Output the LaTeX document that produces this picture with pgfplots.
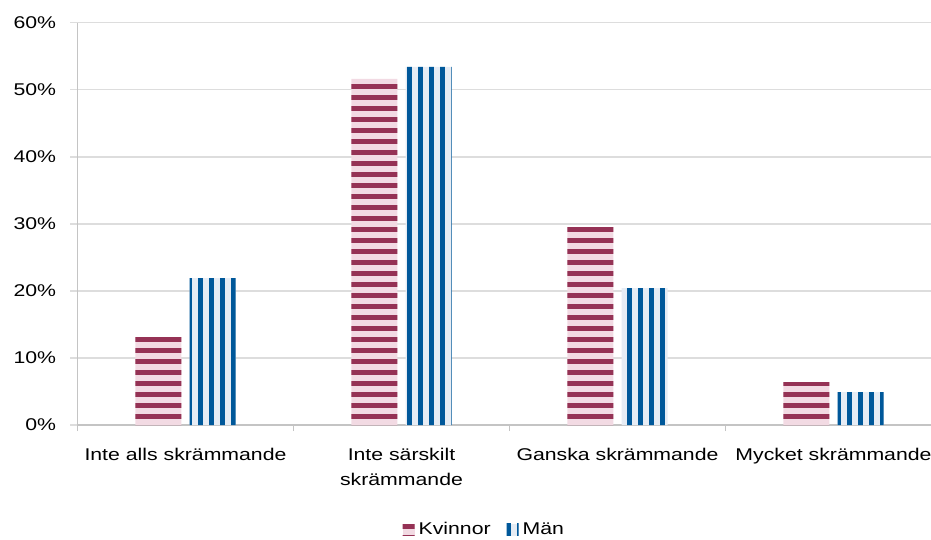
\documentclass[border=0pt]{standalone}
\usepackage{pgfplots}
\pgfplotsset{compat=1.18}
\usepackage{fontspec}
\setmainfont[FakeStretch=1.25]{Liberation Sans}
\usetikzlibrary{patterns.meta}
\definecolor{kdark}{HTML}{953255}
\definecolor{klight}{HTML}{F2DAE3}
\definecolor{mdark}{HTML}{00589A}
\definecolor{mlight}{HTML}{E6ECF4}
\definecolor{gridc}{HTML}{DDDDDD}
\definecolor{axisc}{HTML}{C4C4C4}
\pgfdeclarepattern{
  name=hstripe, type=uncolored,
  bottom left={\pgfpoint{-2pt}{0pt}},
  top right={\pgfpoint{502pt}{5.5pt}},
  tile size={\pgfpoint{500pt}{5.5pt}},
  code={\pgfpathrectangle{\pgfpoint{-2pt}{0pt}}{\pgfpoint{504pt}{2.6pt}}\pgfusepath{fill}}
}
\pgfdeclarepattern{
  name=vstripe, type=uncolored,
  bottom left={\pgfpoint{0pt}{-2pt}},
  top right={\pgfpoint{5.5pt}{302pt}},
  tile size={\pgfpoint{5.5pt}{300pt}},
  code={\pgfpathrectangle{\pgfpoint{0pt}{-2pt}}{\pgfpoint{2.7pt}{304pt}}\pgfusepath{fill}}
}
\begin{document}
\fontsize{8.5pt}{10.5pt}\selectfont
\begin{tikzpicture}
\begin{axis}[
  at={(0,0)}, anchor=south west,
  scale only axis,
  width=432pt, height=201.2pt,
  xmin=-0.5, xmax=3.5,
  ymin=0, ymax=60,
  axis lines*=left,
  x axis line style={draw=axisc, line width=1.3pt},
  y axis line style={draw=axisc, line width=0.9pt},
  ytick={0,10,20,30,40,50,60},
  yticklabels={0\%,10\%,20\%,30\%,40\%,50\%,60\%},
  ymajorgrids,
  grid style={draw=gridc, line width=0.8pt},
  tick align=outside,
  major tick length=3.5pt,
  ytick style={draw=gridc, line width=0.8pt},
  yticklabel style={font=\fontsize{8.5pt}{10.5pt}\selectfont, inner sep=0pt, xshift=-7pt},
  xtick={0,1,2,3},
  xticklabels={Inte alls skrämmande, {Inte särskilt\\skrämmande}, Ganska skrämmande, Mycket skrämmande},
  xtick style={draw=none},
  xticklabel style={font=\fontsize{8.5pt}{12.5pt}\selectfont, align=center, inner sep=0pt, yshift=-8pt},
  extra x ticks={-0.5,0.5,1.5,2.5,3.5},
  extra x tick labels={},
  extra x tick style={xtick style={draw=axisc, line width=0.8pt}, major tick length=3pt},
  ybar,
  bar width=23pt,
  clip=false,
  legend columns=2,
  legend style={at={(0.472,-0.26)}, anchor=center, draw=none, fill=none,
    font=\fontsize{8.5pt}{10.5pt}\selectfont,
    /tikz/every even column/.append style={column sep=6pt},
    inner sep=0pt},
  legend image code/.code={\draw[#1, draw=none] (0pt,-3pt) rectangle (6pt,3pt);},
]
\addplot[bar shift=-13.6pt, draw=none, fill=klight, postaction={pattern=hstripe, pattern color=kdark}]
  coordinates {(0,13.1) (1,51.6) (2,29.5) (3,6.4)};
\addlegendentry{Kvinnor}
\addplot[bar shift=13.6pt, draw=none, fill=mlight, postaction={pattern=vstripe, pattern color=mdark}]
  coordinates {(0,21.9) (1,53.4) (2,20.4) (3,4.9)};
\addlegendentry{Män}
\end{axis}
\pgfresetboundingbox
\useasboundingbox (-38.75pt,-57.5pt) rectangle (426.75pt,212.5pt);
\end{tikzpicture}
\end{document}
